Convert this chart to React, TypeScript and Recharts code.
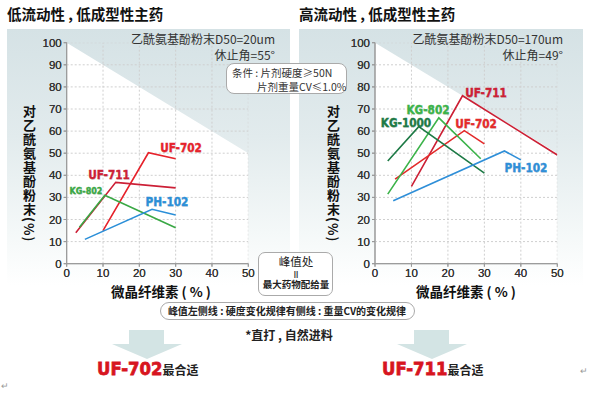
import { Area, ComposedChart, Line, XAxis, YAxis } from "recharts";

const xTicks = [0, 10, 20, 30, 40, 50];
const yTicks = [0, 10, 20, 30, 40, 50, 60, 70, 80, 90, 100];

// white working zone under the diagonal
const whiteZone = [
  { x: 0, y: 100 },
  { x: 50, y: 50 },
];

// left panel: D50=20um
const leftUF702 = [
  { x: 10, y: 15 },
  { x: 22.5, y: 50.2 },
  { x: 30, y: 47.5 },
];
const leftUF711 = [
  { x: 2.5, y: 14 },
  { x: 13.5, y: 36.8 },
  { x: 30, y: 34.3 },
];
const leftKG802 = [
  { x: 3.5, y: 16.5 },
  { x: 10.5, y: 31 },
  { x: 30, y: 16.3 },
];
const leftPH102 = [
  { x: 5, y: 11 },
  { x: 23.5, y: 24.6 },
  { x: 30, y: 22 },
];

// right panel: D50=170um
const rightUF711 = [
  { x: 10, y: 35 },
  { x: 24, y: 76 },
  { x: 50, y: 49.2 },
];
const rightUF702 = [
  { x: 5.5, y: 38.3 },
  { x: 24.5, y: 60.2 },
  { x: 30, y: 54.2 },
];
const rightKG802 = [
  { x: 3.5, y: 31.5 },
  { x: 17.5, y: 66 },
  { x: 29, y: 47.5 },
];
const rightKG1000 = [
  { x: 3.5, y: 46.5 },
  { x: 12, y: 62 },
  { x: 30, y: 41 },
];
const rightPH102 = [
  { x: 5, y: 28.5 },
  { x: 35.5, y: 51 },
  { x: 40, y: 47 },
];

const CJK = '"Noto Sans CJK SC", "Noto Sans", sans-serif';
const LATIN = '"Liberation Sans", Arial, sans-serif';
const HEAVY = '"DejaVu Sans", sans-serif';

interface Series {
  name: string;
  data: { x: number; y: number }[];
  color: string;
}

type Margin = { top: number; right: number; bottom: number; left: number };

const leftSeries: Series[] = [
  { name: "UF-702", data: leftUF702, color: "#e6222b" },
  { name: "UF-711", data: leftUF711, color: "#cc1f36" },
  { name: "KG-802", data: leftKG802, color: "#3aa845" },
  { name: "PH-102", data: leftPH102, color: "#2b8fd8" },
];

const rightSeries: Series[] = [
  { name: "UF-711", data: rightUF711, color: "#cc2035" },
  { name: "UF-702", data: rightUF702, color: "#e32b2b" },
  { name: "KG-802", data: rightKG802, color: "#3cb34a" },
  { name: "KG-1000", data: rightKG1000, color: "#1e7a46" },
  { name: "PH-102", data: rightPH102, color: "#2f8fd8" },
];

// grid lines as two-point segments along the tick values
const gridRows = yTicks.slice(1).map((t) => [
  { x: 0, y: t },
  { x: 50, y: t },
]);
const gridCols = xTicks.slice(1).map((t) => [
  { x: t, y: 0 },
  { x: t, y: 100 },
]);

function Axes() {
  return [
    <XAxis
      key="x"
      dataKey="x"
      type="number"
      domain={[0, 50]}
      ticks={xTicks}
      height={30}
      stroke="#999"
      tickSize={3}
      tickMargin={2}
      tick={{ fill: "#333", fontSize: 11.5, fontFamily: LATIN }}
      allowDataOverflow
    />,
    <YAxis
      key="y"
      type="number"
      domain={[0, 100]}
      ticks={yTicks}
      width={30}
      stroke="#999"
      tickSize={3}
      tickMargin={2}
      tick={{ fill: "#333", fontSize: 11.5, fontFamily: LATIN }}
      allowDataOverflow
    />,
  ];
}

// two stacked charts: the white zone underneath, grid + series on top
function Panel({ series, margin, left }: { series: Series[]; margin: Margin; left: number }) {
  return (
    <>
      <div style={{ position: "absolute", left, top: 0 }}>
        <ComposedChart width={290} height={300} margin={margin}>
          <Area
            data={whiteZone}
            dataKey="y"
            type="linear"
            fill="#ffffff"
            fillOpacity={1}
            stroke="none"
            activeDot={false}
            isAnimationActive={false}
          />
          {Axes()}
        </ComposedChart>
      </div>
      <div style={{ position: "absolute", left, top: 0 }}>
        <ComposedChart width={290} height={300} margin={margin}>
          {Axes()}
          {[...gridRows, ...gridCols].map((g, i) => (
            <Line
              key={"grid" + i}
              data={g}
              dataKey="y"
              type="linear"
              stroke="#cfcfcf"
              strokeWidth={1}
              strokeDasharray="2 2"
              dot={false}
              activeDot={false}
              isAnimationActive={false}
            />
          ))}
          {series.map((s) => (
            <Line
              key={s.name}
              data={s.data}
              dataKey="y"
              type="linear"
              stroke={s.color}
              strokeWidth={1.6}
              dot={false}
              activeDot={false}
              isAnimationActive={false}
            />
          ))}
        </ComposedChart>
      </div>
    </>
  );
}

function Tag({ text, color, cx, cy, size = 10.5 }: { text: string; color: string; cx: number; cy: number; size?: number }) {
  return (
    <div
      style={{
        position: "absolute",
        left: cx,
        top: cy,
        transform: "translate(-50%, -50%) scale(1, 1.15)",
        fontFamily: HEAVY,
        fontWeight: 900,
        fontSize: size,
        color,
        whiteSpace: "nowrap",
        WebkitTextStroke: `0.35px ${color}`,
        textShadow: "0.5px 0.5px 0 rgba(0,0,0,0.15)",
        lineHeight: 1,
      }}
    >
      {text}
    </div>
  );
}

function Txt({ children, style }: { children: React.ReactNode; style: React.CSSProperties }) {
  return (
    <div style={{ position: "absolute", fontFamily: CJK, color: "#222", whiteSpace: "nowrap", lineHeight: 1, ...style }}>
      {children}
    </div>
  );
}

function Arrow({ cx }: { cx: number }) {
  return (
    <svg style={{ position: "absolute", left: cx - 36, top: 329 }} width={72} height={32}>
      <polygon points="18,1 53,1 53,15 71,15 36,30 1,15 18,15" fill="#d3e4e4" />
    </svg>
  );
}

const panelBg = "linear-gradient(to bottom, #d5e2e5 0%, #e2ebed 40%, #f4f8f8 75%, #ffffff 95%)";

const bigName: React.CSSProperties = {
  fontFamily: HEAVY,
  fontWeight: 900,
  fontSize: 16.5,
  color: "#d7151f",
  display: "inline-block",
  transform: "scale(1,1.1)",
  WebkitTextStroke: "0.7px #d7151f",
};

export default function App() {
  return (
    <div style={{ position: "absolute", left: 0, top: 0, width: 593, height: 396, background: "#fff", overflow: "hidden" }}>
      <div style={{ position: "absolute", left: 7, top: 29, width: 283, height: 270, background: panelBg }} />
      <div style={{ position: "absolute", left: 299, top: 29, width: 284, height: 270, background: panelBg }} />

      <Panel series={leftSeries} left={0} margin={{ top: 42.7, right: 41.7, bottom: 6.3, left: 36.7 }} />
      <Panel series={rightSeries} left={295} margin={{ top: 42.7, right: 27.7, bottom: 6.3, left: 50 }} />

      {/* titles */}
      <Txt style={{ left: 7, top: 7, fontSize: 14.5, fontWeight: 700, color: "#111" }}>低流动性 , 低成型性主药</Txt>
      <Txt style={{ left: 299, top: 7, fontSize: 14.5, fontWeight: 700, color: "#111" }}>高流动性 , 低成型性主药</Txt>

      {/* notes */}
      <Txt style={{ right: 593 - 275, top: 33, fontSize: 12, color: "#333", textAlign: "right" }}>乙酰氨基酚粉末D50=20um</Txt>
      <Txt style={{ right: 593 - 275, top: 49, fontSize: 12, color: "#333", textAlign: "right" }}>休止角=55°</Txt>
      <Txt style={{ right: 593 - 563, top: 33, fontSize: 12, color: "#333", textAlign: "right" }}>乙酰氨基酚粉末D50=170um</Txt>
      <Txt style={{ right: 593 - 563, top: 49, fontSize: 12, color: "#333", textAlign: "right" }}>休止角=49°</Txt>

      {/* condition box */}
      <div
        style={{
          position: "absolute",
          left: 226,
          top: 63,
          width: 121,
          height: 31,
          border: "1px solid #aaa",
          borderRadius: 8,
          background: "#fff",
          boxSizing: "border-box",
        }}
      />
      <Txt style={{ left: 232, top: 68, fontSize: 10.5, color: "#333" }}>条件 : 片剂硬度≥50N</Txt>
      <Txt style={{ left: 257, top: 82, fontSize: 10.5, color: "#333" }}>片剂重量CV≤1.0%</Txt>

      {/* y axis labels */}
      <Txt style={{ left: 23, top: 105, fontSize: 13, fontWeight: 700, writingMode: "vertical-rl", letterSpacing: 1, color: "#111" }}>
        对乙酰氨基酚粉末(%)
      </Txt>
      <Txt style={{ left: 327, top: 105, fontSize: 13, fontWeight: 700, writingMode: "vertical-rl", letterSpacing: 1, color: "#111" }}>
        对乙酰氨基酚粉末(%)
      </Txt>

      {/* x axis labels */}
      <Txt style={{ left: 161, top: 292, transform: "translate(-50%, -50%)", fontSize: 13.5, fontWeight: 700, color: "#111" }}>
        微晶纤维素 ( % )
      </Txt>
      <Txt style={{ left: 466, top: 292, transform: "translate(-50%, -50%)", fontSize: 13.5, fontWeight: 700, color: "#111" }}>
        微晶纤维素 ( % )
      </Txt>

      {/* series tags */}
      <Tag text="UF-702" color="#e6222b" cx={181} cy={148} />
      <Tag text="UF-711" color="#cc1f36" cx={109} cy={175} />
      <Tag text="KG-802" color="#3aa845" cx={86} cy={192} size={8} />
      <Tag text="PH-102" color="#2b8fd8" cx={167} cy={202} />

      <Tag text="UF-711" color="#cc2035" cx={486} cy={93} />
      <Tag text="KG-802" color="#3cb34a" cx={428} cy={110} />
      <Tag text="KG-1000" color="#1e7a46" cx={406} cy={123} />
      <Tag text="UF-702" color="#e32b2b" cx={476} cy={124} />
      <Tag text="PH-102" color="#2f8fd8" cx={526} cy={168} />

      {/* peak box */}
      <div
        style={{
          position: "absolute",
          left: 258,
          top: 252,
          width: 75,
          height: 44,
          border: "1px solid #aaa",
          borderRadius: 7,
          background: "#fff",
          boxSizing: "border-box",
        }}
      />
      <Txt style={{ left: 296, top: 262, transform: "translate(-50%, -50%)", fontSize: 11.5, color: "#222" }}>峰值处</Txt>
      <Txt style={{ left: 296, top: 274, transform: "translate(-50%, -50%)", fontSize: 8, fontWeight: 700, fontFamily: LATIN, color: "#333" }}>||</Txt>
      <Txt style={{ left: 296, top: 285, transform: "translate(-50%, -50%)", fontSize: 9.5, fontWeight: 700, color: "#222" }}>最大药物配给量</Txt>

      {/* rule box */}
      <div
        style={{
          position: "absolute",
          left: 160,
          top: 302,
          width: 255,
          height: 18,
          border: "1px solid #aaa",
          borderRadius: 9,
          background: "#fff",
          boxSizing: "border-box",
        }}
      />
      <Txt style={{ left: 287, top: 311, transform: "translate(-50%, -50%)", fontSize: 10, fontWeight: 700, color: "#222" }}>
        峰值左侧线 : 硬度变化规律有侧线 : 重量CV的变化规律
      </Txt>

      <Txt style={{ left: 289, top: 335, transform: "translate(-50%, -50%)", fontSize: 12, fontWeight: 700, color: "#222" }}>
        *直打 , 自然进料
      </Txt>

      <Arrow cx={147} />
      <Arrow cx={432} />

      <div style={{ position: "absolute", left: 97, top: 370, transform: "translateY(-50%)", whiteSpace: "nowrap", lineHeight: 1 }}>
        <span style={bigName}>UF-702</span>
        <span style={{ fontFamily: CJK, fontWeight: 700, fontSize: 12, color: "#222" }}>最合适</span>
      </div>
      <div style={{ position: "absolute", left: 382, top: 370, transform: "translateY(-50%)", whiteSpace: "nowrap", lineHeight: 1 }}>
        <span style={bigName}>UF-711</span>
        <span style={{ fontFamily: CJK, fontWeight: 700, fontSize: 12, color: "#222" }}>最合适</span>
      </div>

      <Txt style={{ left: 580, top: 366, fontSize: 9, color: "#999" }}>↵</Txt>
      <Txt style={{ left: 1, top: 381, fontSize: 9, color: "#999" }}>↵</Txt>
    </div>
  );
}
